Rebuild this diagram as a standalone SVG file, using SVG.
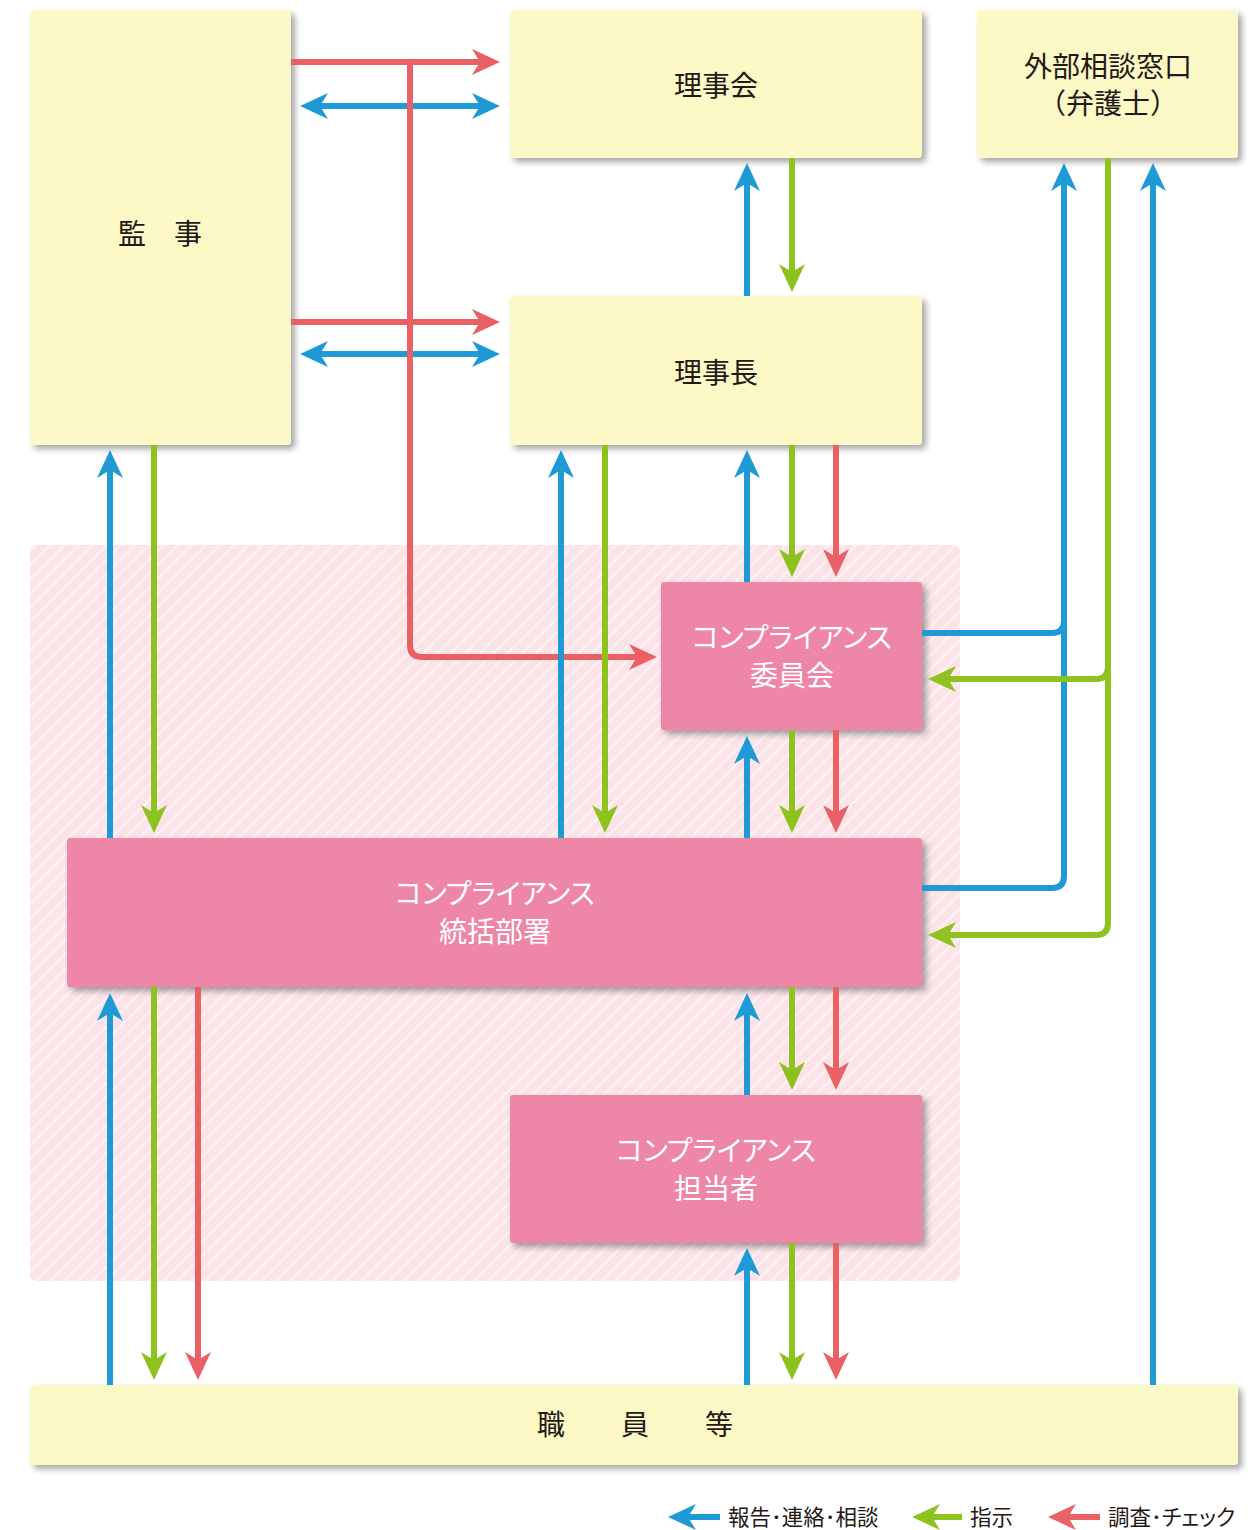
<svg xmlns="http://www.w3.org/2000/svg" width="1258" height="1530" viewBox="0 0 1258 1530">
<style>
.y{fill:#FDF9C6}
.p{fill:#EE87A7}
.t{font-family:"Noto Sans CJK JP","Noto Sans",sans-serif;font-size:28px;fill:#231815;text-anchor:middle}
.k{font-feature-settings:"palt"}
.w{fill:#ffffff}
.lg{font-family:"Noto Sans CJK JP","Noto Sans",sans-serif;font-size:21.5px;fill:#231815}
.b{stroke:#1E9AD6;stroke-width:6;fill:none}
.g{stroke:#8DC21F;stroke-width:6;fill:none}
.r{stroke:#E96065;stroke-width:6;fill:none}
.b.e{marker-end:url(#mb)}
.g.e{marker-end:url(#mg)}
.r.e{marker-end:url(#mr)}
.b.s{marker-start:url(#mb)}
</style>
<defs>
<filter id="sh" x="-10%" y="-10%" width="130%" height="130%">
<feDropShadow dx="4" dy="4" stdDeviation="3" flood-color="#000" flood-opacity="0.35"/>
</filter>
<pattern id="hatch" width="10" height="10" patternUnits="userSpaceOnUse" patternTransform="rotate(45)">
<rect width="10" height="10" fill="#FBE3E8"/>
<line x1="1" y1="0" x2="1" y2="10" stroke="#ffffff" stroke-width="1.6" stroke-opacity="0.7"/>
</pattern>
<marker id="mb" markerUnits="userSpaceOnUse" orient="auto-start-reverse" overflow="visible" markerWidth="1" markerHeight="1">
<path d="M14,0 L-14,-13 L-6,0 L-14,13 Z" fill="#1E9AD6"/>
</marker>
<marker id="mg" markerUnits="userSpaceOnUse" orient="auto-start-reverse" overflow="visible" markerWidth="1" markerHeight="1">
<path d="M14,0 L-14,-13 L-6,0 L-14,13 Z" fill="#8DC21F"/>
</marker>
<marker id="mr" markerUnits="userSpaceOnUse" orient="auto-start-reverse" overflow="visible" markerWidth="1" markerHeight="1">
<path d="M14,0 L-14,-13 L-6,0 L-14,13 Z" fill="#E96065"/>
</marker>
</defs>
<rect width="1258" height="1530" fill="#ffffff"/>
<g id="area">
<rect x="30" y="545" width="930" height="736" rx="6" fill="url(#hatch)"/>
</g>
<g id="n-kanji">
<rect class="y" x="30" y="10" width="261" height="435" rx="4" filter="url(#sh)"/>
<text class="t" x="160" y="244">監　事</text>
</g>
<g id="n-rijikai">
<rect class="y" x="510" y="10" width="412" height="148" rx="4" filter="url(#sh)"/>
<text class="t" x="716" y="96">理事会</text>
</g>
<g id="n-gaibu">
<rect class="y" x="977" y="10" width="261" height="148" rx="4" filter="url(#sh)"/>
<text class="t" x="1108" y="77">外部相談窓口</text>
<text class="t" x="1108" y="114">（弁護士）</text>
</g>
<g id="n-rijicho">
<rect class="y" x="510" y="296" width="412" height="149" rx="4" filter="url(#sh)"/>
<text class="t" x="716" y="383">理事長</text>
</g>
<g id="n-iinkai">
<rect class="p" x="661" y="582" width="261" height="148" rx="3" filter="url(#sh)"/>
<text class="t w k" x="792" y="648">コンプライアンス</text>
<text class="t w" x="792" y="686">委員会</text>
</g>
<g id="n-tokatsu">
<rect class="p" x="67" y="838" width="855" height="149" rx="3" filter="url(#sh)"/>
<text class="t w k" x="495" y="904">コンプライアンス</text>
<text class="t w" x="495" y="942">統括部署</text>
</g>
<g id="n-tanto">
<rect class="p" x="510" y="1095" width="412" height="148" rx="3" filter="url(#sh)"/>
<text class="t w k" x="716" y="1161">コンプライアンス</text>
<text class="t w" x="716" y="1199">担当者</text>
</g>
<g id="n-shokuin">
<rect class="y" x="30" y="1385" width="1208" height="80" rx="4" filter="url(#sh)"/>
<text class="t" x="635" y="1435">職　　員　　等</text>
</g>
<g id="connectors">
<path class="r e" d="M291,62 H486"/>
<path class="b e s" d="M314,106 H486"/>
<path class="r e" d="M291,322 H486"/>
<path class="b e s" d="M314,354 H486"/>
<path class="r e" d="M410,62 V645 Q410,657 422,657 H643"/>
<path class="b e" d="M747,296 V177"/>
<path class="g e" d="M792,158 V278"/>
<path class="b e" d="M922,633 H1052 Q1064,633 1064,621 V177"/>
<path class="b" d="M922,888 H1052 Q1064,888 1064,876 V621"/>
<path class="g e" d="M1108,158 V667 Q1108,679 1096,679 H942"/>
<path class="g e" d="M1108,660 V923 Q1108,935 1096,935 H942"/>
<path class="b e" d="M1153,1385 V177"/>
<path class="b e" d="M110,838 V464"/>
<path class="g e" d="M154,445 V819"/>
<path class="b e" d="M561,838 V464"/>
<path class="g e" d="M605,445 V819"/>
<path class="b e" d="M747,582 V464"/>
<path class="g e" d="M792,445 V563"/>
<path class="r e" d="M836,445 V563"/>
<path class="b e" d="M747,838 V750"/>
<path class="g e" d="M792,730 V819"/>
<path class="r e" d="M836,730 V819"/>
<path class="b e" d="M747,1095 V1007"/>
<path class="g e" d="M792,987 V1076"/>
<path class="r e" d="M836,987 V1076"/>
<path class="b e" d="M747,1385 V1262"/>
<path class="g e" d="M792,1243 V1366"/>
<path class="r e" d="M836,1243 V1366"/>
<path class="b e" d="M110,1385 V1007"/>
<path class="g e" d="M154,987 V1366"/>
<path class="r e" d="M198,987 V1366"/>
</g>
<g id="legend">
<path class="b e" d="M720,1517 H682"/>
<text class="lg" x="728" y="1525">報告･連絡･相談</text>
<path class="g e" d="M962,1517 H926"/>
<text class="lg" x="970" y="1525">指示</text>
<path class="r e" d="M1100,1517 H1062"/>
<text class="lg" x="1108" y="1525">調査<tspan class="k">･チェック</tspan></text>
</g>
</svg>
